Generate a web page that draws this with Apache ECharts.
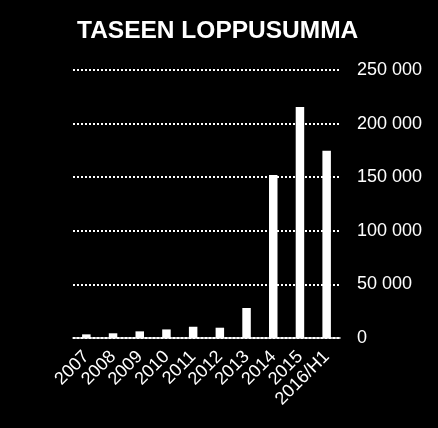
<!DOCTYPE html>
<html lang="fi">
<head>
    <meta charset="UTF-8">
    <title>Taseen loppusumma</title>
    <script src="https://cdn.jsdelivr.net/npm/echarts@6/dist/echarts.min.js"></script>
</head>
<style>
html,body{margin: 0;padding: 0;background-color: #000}
#chartBox{width: 438px;height: 428px;background-color: #000}
</style>
<body>
    <div id="chartBox"></div>
</body>
<script>
// vuodet ja taseen loppusumma (luettu kuvasta)
const years = ['2007', '2008', '2009', '2010', '2011', '2012', '2013', '2014', '2015', '2016/H1'];
const totals = [3400, 4400, 6200, 8000, 10500, 9600, 28000, 152000, 215500, 174700];
const yTicks = [0, 50000, 100000, 150000, 200000, 250000];

function fmt(v){
    // tuhaterotin välilyönnillä
    return String(v).replace(/\B(?=(\d{3})+(?!\d))/g, ' ');
}

function balanceOptions(){
    return {
        backgroundColor: '#000',
        animation: false,
        title:{
            text: 'TASEEN LOPPUSUMMA',
            left: 72,
            top: 14,
            textStyle:{
                color: '#fff',
                fontFamily: 'Liberation Sans',
                fontWeight: 'bold',
                fontSize: 24.5,
            }
        },
        grid:{
            left: 73,
            right: 98,
            top: 70,
            bottom: 90,
        },
        xAxis:{
            type: 'category',
            data: years,
            axisLine:{lineStyle:{color: '#fff', width: 1.5}},
            axisTick:{show: false},
            axisLabel:{
                color: '#fff',
                fontFamily: 'Liberation Sans',
                fontSize: 18,
                rotate: 45,
                margin: 16,
                interval: 0,
            },
        },
        yAxis:{
            type: 'value',
            position: 'right',
            min: yTicks[0],
            max: yTicks[yTicks.length - 1],
            interval: 50000,
            axisLine:{show: false},
            axisTick:{show: false},
            axisLabel:{
                color: '#fff',
                fontFamily: 'Liberation Sans',
                fontSize: 18,
                margin: 17,
                formatter: fmt,
            },
            splitLine:{
                lineStyle:{color: '#fff', width: 2, type: [2, 2]}
            },
        },
        series:[
            {
                type: 'bar',
                name: 'Taseen loppusumma',
                barWidth: 8.5,
                itemStyle:{color: '#fff'},
                data: totals,
            },
        ]
    };
}

let chartObj = echarts.init(document.getElementById('chartBox'));
chartObj.setOption(balanceOptions(), true);
</script>
</html>
